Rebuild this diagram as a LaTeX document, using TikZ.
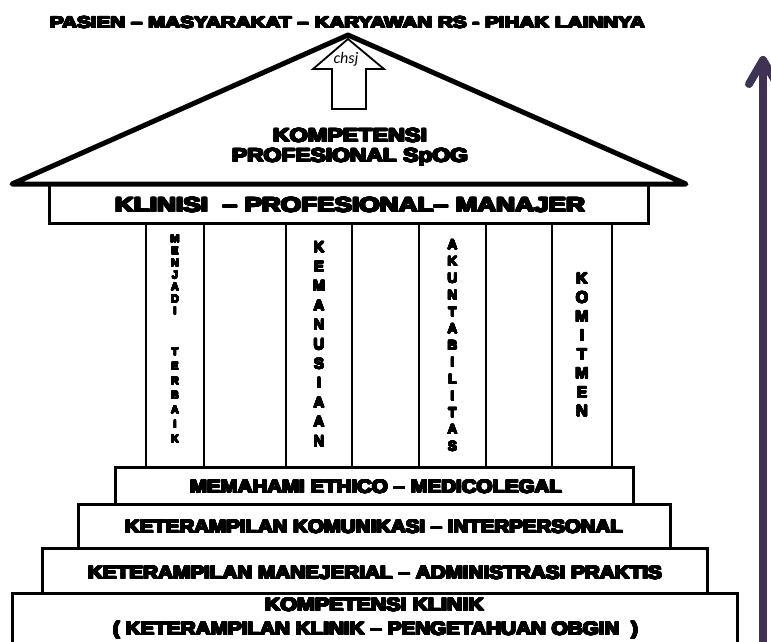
\documentclass[tikz,border=0pt]{standalone}
\usepackage{fontspec}
\usepackage{graphicx}
\usepackage[copies]{contour}
\contournumber{24}
\newfontfamily\hv{Liberation Sans}
\newfontfamily\cf{Carlito}
\definecolor{arrowpurple}{RGB}{64,50,85}
\newcommand\fitx[3][0.7pt]{\contourlength{#1}\resizebox{#2pt}{\height}{\contour{black}{#3}}}
\newcommand\ct[1]{\contour{black}{#1}}
\begin{document}
\begin{tikzpicture}[x=1pt,y=-1pt,
  colbox/.style={draw, line width=2pt, fill=white},
  stepbox/.style={draw, line width=3pt, fill=white},
  beambox/.style={draw, line width=3pt, fill=white},
  lbl/.style={inner sep=0pt, anchor=base},
  stack/.style={inner sep=0pt, anchor=north, align=center},
  heavy/.style={font=\hv\bfseries\fontsize{#1}{#1}\selectfont},
]
\useasboundingbox (0,0) rectangle (771,641);
\clip (0,0) rectangle (771,641);
\fill[white] (0,0) rectangle (771,641);

% purple arrow on the right
\coordinate (arrowbot) at (763,700);
\coordinate (arrowtop) at (763,60);
\coordinate (wingL) at (749,84);
\coordinate (wingR) at (777,84);
\draw[arrowpurple, line width=8pt, line cap=round, line join=round] (arrowbot) -- (arrowtop);
\draw[arrowpurple, line width=8pt, line cap=round, line join=round] (wingL) -- (arrowtop) -- (wingR);

% columns
\draw[colbox] (146,222) rectangle (204,467);
\draw[colbox] (286,222) rectangle (352,467);
\draw[colbox] (419,222) rectangle (486,467);
\draw[colbox] (552,221) rectangle (612,467);

% beam
\draw[beambox] (49,184) rectangle (648,223);

% roof
\draw[line width=5pt, line join=round, line cap=round, fill=white] (12,184) -- (348,35) -- (686,184) -- cycle;

% hollow arrow in the roof
\draw[line width=1.8pt, fill=white, line join=miter] (348,39) -- (384,69) -- (366,69) -- (366,109) -- (332,109) -- (332,69) -- (313,69) -- cycle;
\node[lbl, font=\cf\itshape\fontsize{16}{16}\selectfont] (chsj) at (346,63) {chsj};

% steps
\draw[stepbox] (12,593) rectangle (737,660);
\draw[stepbox] (42,548) rectangle (707,593);
\draw[stepbox] (78,504) rectangle (670,548);
\draw[stepbox] (115,467) rectangle (633,504);

% texts
\node[lbl, heavy=16] (title) at (347.5,28) {\fitx[0.6pt]{595}{PASIEN – MASYARAKAT – KARYAWAN RS - PIHAK LAINNYA}};
\node[lbl, heavy=19] (roof1) at (350,142) {\fitx{154}{KOMPETENSI}};
\node[lbl, heavy=19] (roof2) at (350,162) {\fitx{236}{PROFESIONAL SpOG}};
\node[lbl, heavy=20.5] (beam) at (350,212) {\fitx[0.8pt]{470}{KLINISI \ – PROFESIONAL– MANAJER}};

\contourlength{0.4pt}
\node[stack, font=\hv\bfseries\fontsize{11}{12}\selectfont] (col1a) at (175,235)
  {\ct{M}\\\ct{E}\\\ct{N}\\\ct{J}\\\ct{A}\\\ct{D}\\\ct{I}};
\node[stack, font=\hv\bfseries\fontsize{11}{14.5}\selectfont] (col1b) at (175,348)
  {\ct{T}\\\ct{E}\\\ct{R}\\\ct{B}\\\ct{A}\\\ct{I}\\\ct{K}};
\contourlength{0.55pt}
\node[stack, font=\hv\bfseries\fontsize{15}{19.4}\selectfont] (col2) at (319,242)
  {\ct{K}\\\ct{E}\\\ct{M}\\\ct{A}\\\ct{N}\\\ct{U}\\\ct{S}\\\ct{I}\\\ct{A}\\\ct{A}\\\ct{N}};
\node[stack, font=\hv\bfseries\fontsize{13.5}{16.8}\selectfont] (col3) at (452.5,240)
  {\ct{A}\\\ct{K}\\\ct{U}\\\ct{N}\\\ct{T}\\\ct{A}\\\ct{B}\\\ct{I}\\\ct{L}\\\ct{I}\\\ct{T}\\\ct{A}\\\ct{S}};
\node[stack, font=\hv\bfseries\fontsize{16}{18.9}\selectfont] (col4) at (582,273)
  {\ct{K}\\\ct{O}\\\ct{M}\\\ct{I}\\\ct{T}\\\ct{M}\\\ct{E}\\\ct{N}};

\node[lbl, heavy=18.5] (step1) at (376,493) {\fitx{372}{MEMAHAMI ETHICO – MEDICOLEGAL}};
\node[lbl, heavy=18.5] (step2) at (374,533) {\fitx{498}{KETERAMPILAN KOMUNIKASI – INTERPERSONAL}};
\node[lbl, heavy=18.5] (step3) at (375,579) {\fitx{574}{KETERAMPILAN MANEJERIAL – ADMINISTRASI PRAKTIS}};
\node[lbl, heavy=18.5] (step4a) at (374.5,611) {\fitx{219}{KOMPETENSI KLINIK}};
\node[lbl, heavy=18.5] (step4b) at (375.5,635) {\fitx{525}{( KETERAMPILAN KLINIK – PENGETAHUAN OBGIN \ )}};
\end{tikzpicture}
\end{document}
